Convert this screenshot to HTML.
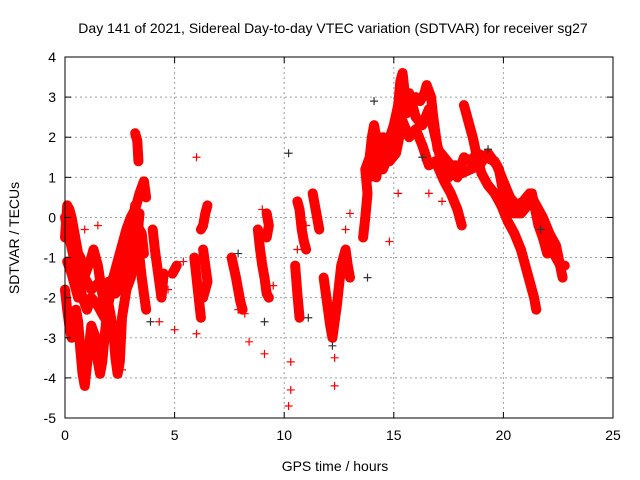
<!DOCTYPE html>
<html><head><meta charset="utf-8"><style>
body{margin:0;background:#fff;}
svg{display:block;font-family:"Liberation Sans",sans-serif;}
</style></head><body>
<svg id="chart" width="640" height="480">
<text x="333" y="33" font-size="14" text-anchor="middle">Day 141 of 2021, Sidereal Day-to-day VTEC variation (SDTVAR) for receiver sg27</text>
<text x="335" y="471" font-size="14" text-anchor="middle">GPS time / hours</text>
<text transform="translate(19,238) rotate(-90)" font-size="14" text-anchor="middle">SDTVAR / TECUs</text>
<g id="grid"></g><g id="marks"></g><g id="axes"></g>
</svg>
<script>
const xTicks=[0,5,10,15,20,25];
const yTicks=[-5,-4,-3,-2,-1,0,1,2,3,4];
const trackA=[[0,-0.5],[0.1,0.3],[0.2,0.2],[0.3,0],[0.4,-0.3],[0.5,-0.6],[0.6,-0.9],[0.7,-1.0],[0.8,-1.3],[0.9,-1.5],[1.0,-1.6],[1.2,-1.8],[1.4,-1.7],[1.6,-1.6],[1.8,-1.8],[2.0,-1.7],[2.2,-1.5],[2.4,-1.1],[2.6,-0.7],[2.8,-0.3],[3.0,0.0],[3.2,0.2],[3.4,0.6],[3.6,0.9],[3.7,0.5]];
const trackB=[[0,-1.8],[0.1,-2.3],[0.2,-2.7],[0.3,-3.0],[0.4,-2.8],[0.5,-2.3],[0.6,-2.6],[0.7,-3.3],[0.8,-3.9],[0.9,-4.2],[1.0,-3.7],[1.1,-3.2],[1.2,-2.7],[1.4,-3.0],[1.5,-3.6],[1.6,-3.9],[1.7,-3.6],[1.8,-3.0],[1.9,-2.5],[2.0,-2.2],[2.2,-2.8],[2.3,-3.5],[2.4,-3.9],[2.5,-3.6],[2.6,-2.5],[2.8,-1.8],[3.0,-1.5],[3.2,-1.0],[3.3,-0.5],[3.4,0.1]];
const trackC=[[0.1,-1.1],[0.3,-1.4],[0.5,-1.8],[0.6,-2.0],[0.8,-1.6],[1.0,-1.3],[1.2,-1.0],[1.3,-0.8],[1.5,-1.2],[1.7,-1.9],[1.9,-2.4],[2.1,-1.8],[2.3,-1.5],[2.5,-1.2],[2.7,-0.9],[2.9,-0.4],[3.1,-0.1],[3.2,0.3]];
const trackC2=[[0.0,0.0],[0.2,-0.5],[0.4,-1.0],[0.6,-1.5],[0.8,-2.0],[1.0,-2.3],[1.2,-2.0],[1.5,-2.2],[1.8,-2.5],[2.0,-1.6],[2.3,-1.9],[2.6,-1.6],[2.9,-1.2],[3.1,-0.6],[3.3,-0.2],[3.5,-0.4],[3.6,-0.9]];
const trackD=[[3.2,2.1],[3.3,1.9],[3.35,1.4]];
const trackE=[[3.4,-1.0],[3.5,-1.5],[3.6,-1.9],[3.7,-2.3]];
const trackF=[[4.0,-0.3],[4.1,-0.8],[4.2,-1.2],[4.3,-1.6],[4.4,-2.0],[4.5,-1.4]];
const trackG=[[4.9,-1.4],[5.1,-1.2]];
const trackH=[[5.9,-1.0],[6.0,-1.5],[6.1,-2.0],[6.2,-2.5]];
const trackI=[[6.2,-0.3],[6.3,-0.2],[6.4,0.1],[6.5,0.3]];
const trackJ=[[6.3,-0.8],[6.4,-1.2],[6.5,-1.6],[6.3,-2.0]];
const trackK=[[7.6,-1.0],[7.8,-1.5],[8.0,-2.1],[8.1,-2.3]];
const trackL=[[8.8,-0.3],[8.9,-0.8],[9.0,-1.2],[9.1,-1.5],[9.2,-1.9],[9.3,-2.0]];
const trackM=[[9.2,0.1],[9.3,-0.2],[9.2,-0.5]];
const trackN=[[10.5,-1.2],[10.6,-1.9],[10.7,-2.5]];
const trackO=[[10.6,0.4],[10.7,0.2],[10.8,-0.3],[10.9,-0.6],[11.0,-0.8]];
const trackP=[[11.3,0.6],[11.5,0.0],[11.6,-0.3]];
const trackQ=[[11.8,-1.5],[11.9,-1.9],[12.0,-2.3],[12.1,-2.7],[12.2,-3.0],[12.3,-2.6],[12.4,-2.2],[12.5,-1.7],[12.6,-1.2],[12.8,-0.8],[12.9,-1.2],[13.0,-1.5]];
const trackR=[[13.6,-0.5],[13.7,0.0],[13.8,0.6],[13.7,1.2],[13.9,1.5],[14.0,2.0],[14.1,2.3],[14.3,1.7],[14.5,1.4],[14.7,1.8],[15.0,2.3],[15.2,2.8],[15.3,3.4],[15.4,3.6],[15.6,2.6],[15.8,2.8],[16.0,3.0],[16.2,2.9],[16.4,3.1],[16.5,3.3],[16.7,3.0],[16.8,2.5],[17.0,1.7],[17.3,1.5],[17.6,1.3],[17.9,1.0],[18.2,1.5],[18.5,1.4],[18.8,1.6],[19.2,1.5],[19.6,1.4],[19.8,1.2],[20.0,0.6],[20.2,0.3],[20.5,0.1],[20.8,0.1],[21.1,0.3],[21.3,0.6],[21.6,-0.2],[21.8,-0.5],[22.0,-0.9],[22.2,-0.8],[22.4,-1.0],[22.6,-1.2],[22.8,-1.2]];
const trackR2=[[13.9,1.0],[14.2,1.6],[14.5,1.2],[14.8,1.6],[15.1,2.0],[15.4,2.6],[15.7,3.1],[16.0,2.5],[16.3,2.3],[16.6,2.7],[16.9,2.0],[17.2,1.3],[17.5,1.0],[17.8,1.3],[18.1,1.1],[18.5,1.2],[18.9,1.3],[19.3,1.6],[19.7,1.3],[20.0,0.9],[20.3,0.5],[20.6,0.3],[20.9,0.4],[21.2,0.6],[21.5,0.3],[21.8,0.0],[22.1,-0.4],[22.4,-0.7],[22.7,-1.5]];
const trackS=[[14.2,1.0],[14.5,2.0],[14.8,1.4],[15.1,1.6],[15.4,2.4],[15.7,2.0],[16.0,2.2],[16.3,1.8],[16.6,1.3],[16.9,1.4],[17.3,0.9],[17.6,0.6],[17.9,0.2],[18.1,-0.2]];
const trackT=[[18.2,2.8],[18.4,2.4],[18.6,2.0],[18.8,1.5],[19.0,1.1],[19.3,0.8],[19.6,0.6],[19.9,0.3],[20.2,-0.1],[20.5,-0.4],[20.8,-0.8],[21.0,-1.2],[21.2,-1.6],[21.4,-2.0],[21.5,-2.3]];
const outliers=[[0.9,-0.3],[1.5,-0.2],[2.1,-2.9],[2.6,-3.8],[3.5,-0.6],[4.3,-2.6],[5.0,-2.8],[5.4,-1.1],[6.0,1.5],[6.0,-2.9],[7.9,-2.3],[8.2,-2.4],[8.4,-3.1],[9.1,-3.4],[10.3,-3.6],[10.3,-4.3],[10.2,-4.7],[10.6,-0.8],[11.0,-0.2],[12.3,-4.2],[12.3,-3.5],[13.0,0.1],[14.8,-0.6],[15.2,0.6],[16.6,0.6],[17.2,0.4],[12.8,-0.3],[9.0,0.2],[9.5,-1.7],[4.7,-1.8]];
const blackPts=[[3.9,-2.6],[7.9,-0.9],[9.1,-2.6],[10.2,1.6],[11.1,-2.5],[12.2,-3.2],[13.8,-1.5],[14.1,2.9],[16.3,1.5],[19.3,1.7],[21.7,-0.3]];
const tracks=[trackA,trackB,trackC,trackC2,trackD,trackE,trackF,trackG,trackH,trackI,trackJ,trackK,trackL,trackM,trackN,trackO,trackP,trackQ,trackR,trackR2,trackS,trackT];

const L=65,R=613,T=57,B=418,NS="http://www.w3.org/2000/svg";
const xs=v=>L+(v-0)/25*(R-L);
const ys=v=>B-(v+5)/9*(B-T);
function mk(tag,at,par){const e=document.createElementNS(NS,tag);for(const k in at)e.setAttribute(k,at[k]);par.appendChild(e);return e;}
const grid=document.getElementById('grid'),marks=document.getElementById('marks'),axes=document.getElementById('axes');
xTicks.forEach(t=>{const x=xs(t);
 if(t>0&&t<25){const g=mk('line',{x1:x,x2:x,y1:T,y2:B,stroke:'#a0a0a0','stroke-dasharray':'2,3'},grid);
 
 }
 mk('line',{x1:x,x2:x,y1:B,y2:B-6,stroke:'#000'},axes);mk('line',{x1:x,x2:x,y1:T,y2:T+6,stroke:'#000'},axes);
 const tx=mk('text',{x:x,y:B+22,'font-size':14,'text-anchor':'middle'},axes);tx.textContent=t;
 
 });
yTicks.forEach(t=>{const y=ys(t);
 if(t>-5&&t<4){const g=mk('line',{x1:L,x2:R,y1:y,y2:y,stroke:'#a0a0a0','stroke-dasharray':'2,3'},grid);
 
 }
 mk('line',{x1:L,x2:L+6,y1:y,y2:y,stroke:'#000'},axes);mk('line',{x1:R,x2:R-6,y1:y,y2:y,stroke:'#000'},axes);
 const tx=mk('text',{x:L-9,y:y+5,'font-size':14,'text-anchor':'end'},axes);tx.textContent=t;
 
 });
const fr=mk('rect',{x:L,y:T,width:R-L,height:B-T,fill:'none',stroke:'#000'},axes);


function plus(p,col,par){const x=xs(p[0]),y=ys(p[1]);
 mk('path',{d:`M${x-4},${y}H${x+4}M${x},${y-4}V${y+4}`,stroke:col,'stroke-width':1.2},par);}
tracks.forEach(tr=>{const g=mk('g',{},marks);
 
 
 mk('polyline',{points:tr.map(p=>xs(p[0])+','+ys(p[1])).join(' '),fill:'none',stroke:'#f00','stroke-width':10,'stroke-linejoin':'round','stroke-linecap':'round'},g);
 tr.forEach(p=>plus(p,'#f00',g));});
const og=mk('g',{},marks);


outliers.forEach(p=>plus(p,'#f00',og));
const bg=mk('g',{},marks);


blackPts.forEach(p=>plus(p,'#333',bg));
</script>
</body></html>
